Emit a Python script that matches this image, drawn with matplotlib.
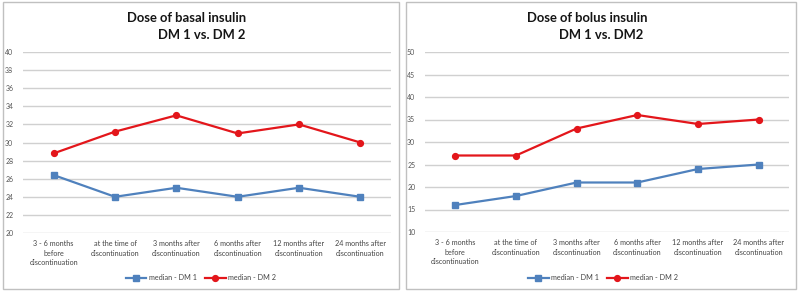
import matplotlib.pyplot as plt
from matplotlib.patches import Rectangle
from matplotlib.lines import Line2D

plt.rcParams['font.family'] = ['Lato', 'DejaVu Sans']

categories = ["3 - 6 months\nbefore\ndiscontinuation",
              "at the time of\ndiscontinuation",
              "3 months after\ndiscontinuation",
              "6 months after\ndiscontinuation",
              "12 months after\ndiscontinuation",
              "24 months after\ndiscontinuation"]

basal_dm1 = [26.4, 24, 25, 24, 25, 24]
basal_dm2 = [28.8, 31.2, 33, 31, 32, 30]

bolus_dm1 = [16, 18, 21, 21, 24, 25]
bolus_dm2 = [27, 27, 33, 36, 34, 35]

blue = "#4F81BD"
red = "#E3161B"
W, H = 800, 293

fig = plt.figure(figsize=(W / 100, H / 100), dpi=100)
fig.patch.set_facecolor("white")

# panel frames
for x0, x1 in [(3, 399), (406, 796)]:
    fig.patches.append(Rectangle((x0 / W, 1 - 289 / H), (x1 - x0) / W, 287 / H,
                                 transform=fig.transFigure, fill=False,
                                 edgecolor="#C0C0C0", lw=1))


def panel(rect, d1, d2, ylim, step, title1, title2, tcx, t2cx, legx):
    ax = fig.add_axes([rect[0] / W, 1 - rect[3] / H, (rect[1] - rect[0]) / W, (rect[3] - rect[2]) / H])
    xs = list(range(len(categories)))
    ax.plot(xs, d1, color=blue, lw=1.6, marker="s", ms=4.2, label="median - DM 1")
    ax.plot(xs, d2, color=red, lw=1.6, marker="o", ms=4.2, label="median - DM 2")
    ax.set_xlim(-0.5, len(categories) - 0.5)
    ax.set_ylim(*ylim)
    ax.set_yticks(range(ylim[0], ylim[1] + 1, step))
    ax.yaxis.grid(True, color="#D0D0D0", lw=1)
    ax.set_axisbelow(True)
    for s in ax.spines.values():
        s.set_visible(False)
    ax.tick_params(axis="y", length=0, labelsize=5, labelcolor="#555555", pad=7)
    ax.tick_params(axis="x", length=0, labelsize=5.2, labelcolor="#444444", pad=5)
    ax.set_xticks(xs)
    ax.set_xticklabels(categories, linespacing=1.45)
    fig.text(tcx / W, 1 - 18 / H, title1, ha="center", va="center", fontsize=9.4, fontweight="bold", color="#151515")
    fig.text(t2cx / W, 1 - 35 / H, title2, ha="center", va="center", fontsize=9.4, fontweight="bold", color="#151515")
    fig.legend(handles=[Line2D([], [], color=blue, lw=1.6, marker="s", ms=4.2, label="median - DM 1"),
                        Line2D([], [], color=red, lw=1.6, marker="o", ms=4.2, label="median - DM 2")],
               loc="center", bbox_to_anchor=(legx / W, 1 - 278 / H), ncol=2, frameon=False,
               fontsize=5.2, handlelength=2.8, columnspacing=1.2, handletextpad=0.3,
               labelcolor="#444444")
    return ax


panel((23, 391, 52, 233), basal_dm1, basal_dm2, (20, 40), 2,
      "Dose of basal insulin", "DM 1 vs. DM 2", 187, 202, 201)
panel((425, 789, 52, 232), bolus_dm1, bolus_dm2, (10, 50), 5,
      "Dose of bolus insulin", "DM 1 vs. DM2", 587, 601, 603)

fig.savefig("out.png", dpi=100)
